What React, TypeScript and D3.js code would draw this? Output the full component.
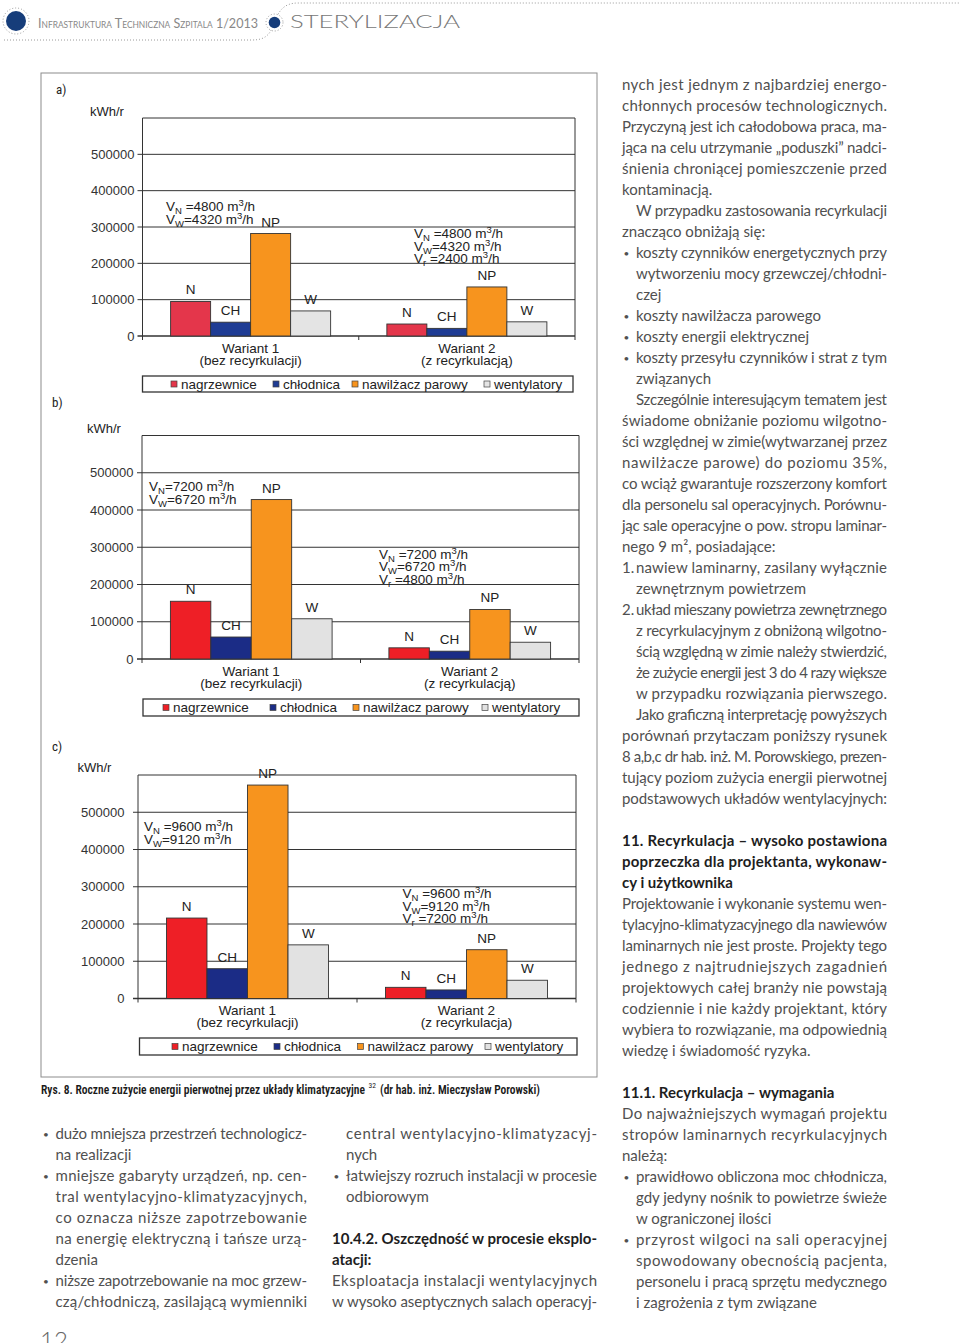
import React from "react";
import * as d3 from "d3";

// ---- chart data (kWh/r) ----
const categories = ["Wariant 1", "Wariant 2"];
const seriesKeys = ["N", "CH", "NP", "W"];
const seriesNames = ["nagrzewnice", "chłodnica", "nawilżacz parowy", "wentylatory"];
const yTicks = [0, 100000, 200000, 300000, 400000, 500000];
const yMax = 600000;

// [wariant][N, CH, NP, W]
const valuesA = [
  [95000, 38000, 282000, 69000],
  [33000, 21000, 135000, 39000],
];
const valuesB = [
  [155000, 59000, 428000, 108000],
  [30000, 21000, 133000, 45000],
];
const valuesC = [
  [216000, 80000, 573000, 144000],
  [30000, 23000, 131000, 49000],
];

const subA = ["(bez recyrkulacji)", "(z recyrkulacją)"];
const subC = ["(bez recyrkulacji)", "(z recyrkulacja)"];

// air flow notes: [subscript, rest]
const flowsA = [
  [["N", " =4800"], ["W", "=4320"]],
  [["N", " =4800"], ["W", "=4320"], ["r", " =2400"]],
];
const flowsB = [
  [["N", "=7200"], ["W", "=6720"]],
  [["N", " =7200"], ["W", "=6720"], ["r", " =4800"]],
];
const flowsC = [
  [["N", " =9600"], ["W", "=9120"]],
  [["N", " =9600"], ["W", "=9120"], ["r", " =7200"]],
];

const FONT = "'Liberation Sans', Arial, sans-serif";
const NARROW = "'Liberation Sans Narrow', 'Roboto Condensed', 'Liberation Sans', sans-serif";
const BODY = "Lato, 'Open Sans', sans-serif";

const panels = [
  {
    label: "a)", lx: 56, ly: 94, ux: 90, uy: 116,
    values: valuesA, sub: subA, flows: flowsA,
    x0: 142.5, x1: 575, yTop: 118, yZero: 336, tickX: 134.5,
    noteX: [166, 414], noteY: [211, 238],
    leg: { x0: 142.5, x1: 573, y0: 376, y1: 392, tx: [181, 283, 362, 494] },
    colors: ["#e4364b", "#1f3c94", "#f7941e", "#e4e4e4"],
  },
  {
    label: "b)", lx: 52, ly: 407, ux: 87, uy: 433,
    values: valuesB, sub: subA, flows: flowsB,
    x0: 142, x1: 579, yTop: 435.5, yZero: 659, tickX: 133.5,
    noteX: [149, 379], noteY: [491, 558.5],
    leg: { x0: 143, x1: 579, y0: 699, y1: 716, tx: [173, 280, 363, 492] },
    colors: ["#ee1f26", "#1b2c86", "#f7941e", "#e2e2e2"],
  },
  {
    label: "c)", lx: 52, ly: 751, ux: 77.5, uy: 772,
    values: valuesC, sub: subC, flows: flowsC,
    x0: 138, x1: 576, yTop: 775, yZero: 998.5, tickX: 124.5,
    noteX: [144, 402.5], noteY: [831, 898],
    leg: { x0: 139.5, x1: 577, y0: 1038, y1: 1055, tx: [182, 284, 367.5, 495] },
    colors: ["#ee1f26", "#1b2c86", "#f7941e", "#e2e2e2"],
  },
];

function Flow({ x, y, sub, rest }: any) {
  return (
    <text x={x} y={y} fontSize={13.5}>
      V<tspan fontSize={9.5} dy={3}>{sub}</tspan>
      <tspan dy={-3}>{rest} m</tspan>
      <tspan fontSize={9.5} dy={-5}>3</tspan>
      <tspan dy={5}>/h</tspan>
    </text>
  );
}

function Panel({ p }: any) {
  const x = d3
    .scaleBand<string>()
    .domain(categories)
    .range([p.x0, p.x1])
    .paddingInner(0.26)
    .paddingOuter(0.13);
  const xs = d3.scaleBand<string>().domain(seriesKeys).range([0, x.bandwidth()]);
  const y = d3.scaleLinear().domain([0, yMax]).range([p.yZero, p.yTop]);
  const mid = (p.x0 + p.x1) / 2;
  const lc = (p.leg.y0 + p.leg.y1) / 2;

  return (
    <g fontFamily={FONT} fill="#222">
      <text x={p.lx} y={p.ly} fontFamily={NARROW} fontSize={13}>{p.label}</text>
      <text x={p.ux} y={p.uy} fontSize={13}>kWh/r</text>

      {/* grid + y axis */}
      {yTicks.map((t) => (
        <g key={t}>
          <line x1={p.x0 - 5} x2={p.x1} y1={y(t)} y2={y(t)} stroke="#333" strokeWidth={t === 0 ? 1.3 : 1} />
          <text x={p.tickX} y={y(t)} dy="0.36em" textAnchor="end" fontSize={13} fill="#333">
            {t}
          </text>
        </g>
      ))}
      <line x1={p.x0} x2={p.x1} y1={y(yMax)} y2={y(yMax)} stroke="#333" />
      <line x1={p.x1} x2={p.x1} y1={y(yMax)} y2={y(0)} stroke="#333" />
      <line x1={p.x0} x2={p.x0} y1={y(yMax)} y2={y(0)} stroke="#333" />
      {[p.x0, mid, p.x1].map((tx, i) => (
        <line key={i} x1={tx} x2={tx} y1={y(0)} y2={y(0) + 4} stroke="#333" />
      ))}

      {/* bars */}
      {categories.map((c, ci) => (
        <g key={c}>
          {seriesKeys.map((s, si) => {
            const v = p.values[ci][si];
            const bx = (x(c) as number) + (xs(s) as number);
            return (
              <g key={s}>
                <rect
                  x={bx}
                  y={y(v)}
                  width={xs.bandwidth()}
                  height={y(0) - y(v)}
                  fill={p.colors[si]}
                  stroke="#333"
                  strokeWidth={0.9}
                />
                <text x={bx + xs.bandwidth() / 2} y={y(v) - 7} textAnchor="middle" fontSize={13.5}>
                  {s}
                </text>
              </g>
            );
          })}
          <text x={(x(c) as number) + x.bandwidth() / 2} y={y(0) + 16.5} textAnchor="middle" fontSize={13.5}>
            {c}
          </text>
          <text x={(x(c) as number) + x.bandwidth() / 2} y={y(0) + 28.5} textAnchor="middle" fontSize={13.5}>
            {p.sub[ci]}
          </text>
          {p.flows[ci].map((f: string[], fi: number) => (
            <Flow key={fi} x={p.noteX[ci]} y={p.noteY[ci] + fi * 12.5} sub={f[0]} rest={f[1]} />
          ))}
        </g>
      ))}

      {/* legend */}
      <rect
        x={p.leg.x0}
        y={p.leg.y0}
        width={p.leg.x1 - p.leg.x0}
        height={p.leg.y1 - p.leg.y0}
        fill="#fff"
        stroke="#333"
        strokeWidth={1.3}
      />
      {seriesNames.map((n, i) => (
        <g key={n}>
          <rect x={p.leg.tx[i] - 10} y={lc - 3} width={6} height={6} fill={p.colors[i]} stroke="#444" strokeWidth={0.7} />
          <text x={p.leg.tx[i]} y={lc + 4.8} fontSize={13.5}>{n}</text>
        </g>
      ))}
    </g>
  );
}

// ---- page text ----
type Line = [string, string, boolean];

const rightCol: Line[] = [
  ["nych jest jednym z najbardziej energo-", "", true],
  ["chłonnych procesów technologicznych.", "", true],
  ["Przyczyną jest ich całodobowa praca, ma-", "", true],
  ["jąca na celu utrzymanie „poduszki” nadci-", "", true],
  ["śnienia chroniącej pomieszczenie przed", "", true],
  ["kontaminacją.", "", false],
  ["W przypadku zastosowania recyrkulacji", "p", true],
  ["znacząco obniżają się:", "", false],
  ["koszty czynników energetycznych przy", "•", true],
  ["wytworzeniu mocy grzewczej/chłodni-", "h", true],
  ["czej", "h", false],
  ["koszty nawilżacza parowego", "•", false],
  ["koszty energii elektrycznej", "•", false],
  ["koszty przesyłu czynników i strat z tym", "•", true],
  ["związanych", "h", false],
  ["Szczególnie interesującym tematem jest", "p", true],
  ["świadome obniżanie poziomu wilgotno-", "", true],
  ["ści względnej w zimie(wytwarzanej przez", "", true],
  ["nawilżacze parowe) do poziomu 35%,", "", true],
  ["co wciąż gwarantuje rozszerzony komfort", "", true],
  ["dla personelu sal operacyjnych. Porównu-", "", true],
  ["jąc sale operacyjne o pow. stropu laminar-", "", true],
  ["nego 9 m², posiadające:", "", false],
  ["nawiew laminarny, zasilany wyłącznie", "1.", true],
  ["zewnętrznym powietrzem", "h", false],
  ["układ mieszany powietrza zewnętrznego", "2.", true],
  ["z recyrkulacyjnym z obniżoną wilgotno-", "h", true],
  ["ścią względną w zimie należy stwierdzić,", "h", true],
  ["że zużycie energii jest 3 do 4 razy większe", "h", true],
  ["w przypadku rozwiązania pierwszego.", "h", true],
  ["Jako graficzną interpretację powyższych", "p", true],
  ["porównań przytaczam poniższy rysunek", "", true],
  ["8 a,b,c dr hab. inż. M. Porowskiego, prezen-", "", true],
  ["tujący poziom zużycia energii pierwotnej", "", true],
  ["podstawowych układów wentylacyjnych:", "", true],
  ["", "", false],
  ["11. Recyrkulacja – wysoko postawiona", "b", true],
  ["poprzeczka dla projektanta, wykonaw-", "b", true],
  ["cy i użytkownika", "b", false],
  ["Projektowanie i wykonanie systemu wen-", "", true],
  ["tylacyjno-klimatyzacyjnego dla nawiewów", "", true],
  ["laminarnych nie jest proste. Projekty tego", "", true],
  ["jednego z najtrudniejszych zagadnień", "", true],
  ["projektowych całej branży nie powstają", "", true],
  ["codziennie i nie każdy projektant, który", "", true],
  ["wybiera to rozwiązanie, ma odpowiednią", "", true],
  ["wiedzę i świadomość ryzyka.", "", false],
  ["", "", false],
  ["11.1. Recyrkulacja – wymagania", "b", false],
  ["Do najważniejszych wymagań projektu", "", true],
  ["stropów laminarnych recyrkulacyjnych", "", true],
  ["należą:", "", false],
  ["prawidłowo obliczona moc chłodnicza,", "•", true],
  ["gdy jedyny nośnik to powietrze świeże", "h", true],
  ["w ograniczonej ilości", "h", false],
  ["przyrost wilgoci na sali operacyjnej", "•", true],
  ["spowodowany obecnością pacjenta,", "h", true],
  ["personelu i pracą sprzętu medycznego", "h", true],
  ["i zagrożenia z tym związane", "h", false],
];

const leftCol: Line[] = [
  ["dużo mniejsza przestrzeń technologicz-", "•", true],
  ["na realizacji", "h", false],
  ["mniejsze gabaryty urządzeń, np. cen-", "•", true],
  ["tral wentylacyjno-klimatyzacyjnych,", "h", true],
  ["co oznacza niższe zapotrzebowanie", "h", true],
  ["na energię elektryczną i tańsze urzą-", "h", true],
  ["dzenia", "h", false],
  ["niższe zapotrzebowanie na moc grzew-", "•", true],
  ["czą/chłodniczą, zasilającą wymienniki", "h", true],
];

const midCol: Line[] = [
  ["central wentylacyjno-klimatyzacyj-", "h", true],
  ["nych", "h", false],
  ["łatwiejszy rozruch instalacji w procesie", "•", true],
  ["odbiorowym", "h", false],
  ["", "", false],
  ["10.4.2. Oszczędność w procesie eksplo-", "b", true],
  ["atacji:", "b", false],
  ["Eksploatacja instalacji wentylacyjnych", "", true],
  ["w wysoko aseptycznych salach operacyj-", "", true],
];

const TEXT_GRAY = "#505050";

function Column({ lines, x, right, y0 }: { lines: Line[]; x: number; right: number; y0: number }) {
  return (
    <g fontFamily={BODY} fontSize={15}>
      {lines.map(([t, kind, just], i) => {
        if (!t) return null;
        const y = y0 + i * 21;
        const bold = kind === "b";
        const indented = kind !== "" && kind !== "b";
        const tx = indented ? x + 14 : x;
        return (
          <g key={i}>
            {kind === "•" && (
              <text x={x + 1.5} y={y - 1} fill={TEXT_GRAY} fontSize={10}>•</text>
            )}
            {(kind === "1." || kind === "2.") && (
              <text x={x} y={y} fill={TEXT_GRAY}>{kind}</text>
            )}
            <text
              x={tx}
              y={y}
              fill={bold ? "#1e1e1e" : TEXT_GRAY}
              fontWeight={bold ? 700 : 400}
              textLength={just ? right - tx : undefined}
              lengthAdjust="spacing"
            >
              {t}
            </text>
          </g>
        );
      })}
    </g>
  );
}

export default function App() {
  return (
    <svg
      width={960}
      height={1343}
      viewBox="0 0 960 1343"
      style={{ position: "absolute", left: 0, top: 0, display: "block", background: "#fff" }}
    >
      <rect width={960} height={1343} fill="#fff" />

      {/* header */}
      <path
        d="M4,40 H252 C266,40 270,34 274,24 C278,12 283,3 298,3 H960"
        fill="none"
        stroke="#9a9a9a"
        strokeWidth={1}
        strokeDasharray="1 2"
      />
      <circle cx={16} cy={21} r={13} fill="#fff" stroke="#9a9a9a" strokeDasharray="1 2" />
      <circle cx={16} cy={21} r={10} fill="#163d7a" />
      <circle cx={274.5} cy={22.5} r={8.5} fill="#fff" stroke="#9a9a9a" strokeDasharray="1 2" />
      <circle cx={274.5} cy={22.5} r={5.8} fill="#163d7a" />
      <text
        x={38}
        y={27.5}
        fontFamily={BODY}
        fontSize={13.5}
        fill="#888"
        style={{ fontVariant: "small-caps" }}
        textLength={220}
        lengthAdjust="spacingAndGlyphs"
      >
        Infrastruktura Techniczna Szpitala 1/2013
      </text>
      <text
        x={290}
        y={27.5}
        fontFamily={BODY}
        fontWeight={300}
        fontSize={18.5}
        fill="#777"
        textLength={170}
        lengthAdjust="spacingAndGlyphs"
      >
        STERYLIZACJA
      </text>

      {/* figure */}
      <rect x={41} y={73} width={556} height={1004} fill="none" stroke="#8c8c8c" strokeWidth={1} />
      {panels.map((p) => (
        <Panel key={p.label} p={p} />
      ))}
      <g fontFamily={NARROW} fill="#1a1a1a" fontWeight={600}>
        <text x={41} y={1093.5} fontSize={13.5} textLength={324} lengthAdjust="spacingAndGlyphs">
          Rys. 8. Roczne zużycie energii pierwotnej przez układy klimatyzacyjne
        </text>
        <text x={368.5} y={1088} fontSize={7.5} fontWeight={400}>32</text>
        <text x={380} y={1093.5} fontSize={13.5} textLength={160} lengthAdjust="spacingAndGlyphs">
          (dr hab. inż. Mieczysław Porowski)
        </text>
      </g>

      {/* body text */}
      <Column lines={rightCol} x={622} right={887} y0={90} />
      <Column lines={leftCol} x={41.5} right={307} y0={1139} />
      <Column lines={midCol} x={332} right={597} y0={1139} />

      <text x={40} y={1349} fontFamily={BODY} fontWeight={300} fontSize={24} fill="#666">
        12
      </text>
    </svg>
  );
}
